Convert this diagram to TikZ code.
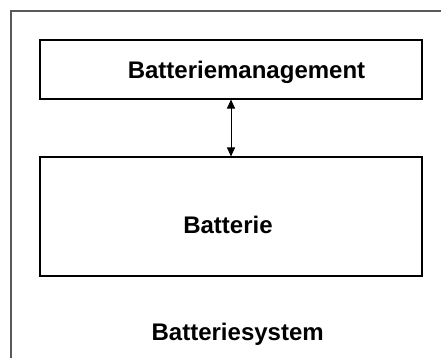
\documentclass[tikz,border=0pt]{standalone}
\usepackage{fontspec}
\setmainfont{Liberation Sans}
\usetikzlibrary{arrows.meta}
\begin{document}
\begin{tikzpicture}[x=1pt,y=1pt,
  box/.style={draw=black,line width=1.1pt,minimum width=382pt,inner sep=0pt},
  lbl/.style={anchor=base,inner sep=0pt,font=\fontsize{24}{28}\selectfont\bfseries},
  frame/.style={draw=black!65,line width=1.3pt}]
\useasboundingbox (0,0) rectangle (441,358);
\fill[white] (0,0) rectangle (441,358);
\coordinate (fbl) at (11,-5);
\coordinate (ftl) at (11,347);
\coordinate (ftr) at (446,347);
\draw[frame] (fbl) -- (ftl) -- (ftr);
\node[box,minimum height=59pt] (bm) at (231,288.5) {};
\node[box,minimum height=119pt] (bat) at (231,141.5) {};
\draw[line width=0.9pt,{Triangle[length=9pt,width=8pt]}-{Triangle[length=9pt,width=8pt]}] (bm.south) -- (bat.north);
\node[lbl] (tbm) at (246.5,279) {Batteriemanagement};
\node[lbl] (tbat) at (228,124) {Batterie};
\node[lbl] (tsys) at (237.7,17.5) {Batteriesystem};
\end{tikzpicture}
\end{document}
